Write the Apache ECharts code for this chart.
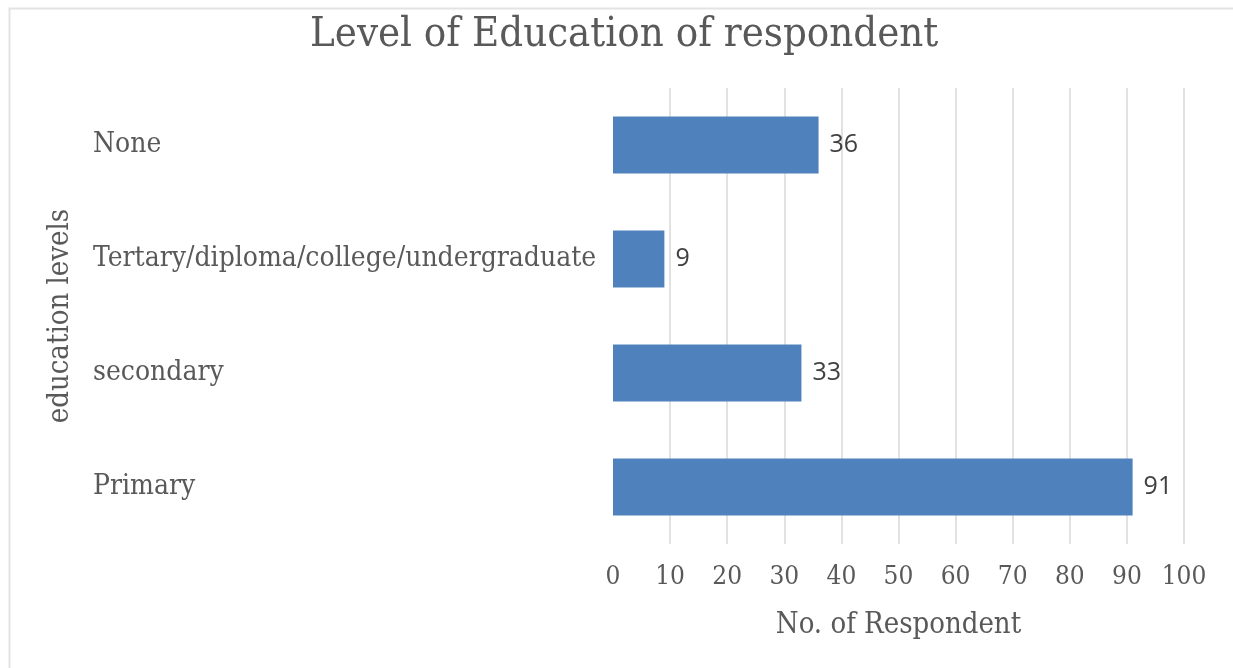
<!DOCTYPE html>
<html><head><meta charset="utf-8">
<script src="https://cdn.jsdelivr.net/npm/echarts@6/dist/echarts.min.js"></script>
<style>html,body{margin:0;padding:0;background:#fff}#c{width:1233px;height:668px}</style>
</head><body><div id="c"></div>
<script>
const categories = ['Primary', 'secondary', 'Tertary/diploma/college/undergraduate', 'None'];
const values = [91, 33, 9, 36];
const tickLabels = ['0', '10', '20', '30', '40', '50', '60', '70', '80', '90', '100'];
const titleText = 'Level of Education of respondent';
const xAxisName = 'No. of Respondent';
const yAxisName = 'education levels';

const serif = '"DejaVu Serif Condensed", "DejaVu Serif", serif';
const chart = echarts.init(document.getElementById('c'));
chart.setOption({
  animation: false,
  backgroundColor: '#fff',
  graphic: [{
    type: 'rect', left: 7, top: 6, z: -1,
    shape: { width: 1240, height: 680 },
    style: { fill: 'none', stroke: '#e3e3e3', lineWidth: 2 }
  }],
  title: {
    text: titleText, left: 305, top: 9,
    textStyle: { fontFamily: serif, fontSize: 41.5, fontWeight: 'normal', color: '#595959' }
  },
  grid: { left: 613, right: 49, top: 88, bottom: 124, containLabel: false },
  xAxis: {
    type: 'value', min: 0, max: 100, interval: 10,
    name: xAxisName, nameLocation: 'middle', nameGap: 67,
    nameTextStyle: { fontFamily: serif, fontSize: 29, color: '#595959' },
    axisLine: { show: false }, axisTick: { show: false },
    axisLabel: { fontFamily: serif, fontSize: 26, color: '#595959', margin: 20,
      formatter: (v) => tickLabels[Math.round(v / 10)] },
    splitLine: { show: true, showMinLine: false, lineStyle: { color: '#d9d9d9', width: 1.5 } }
  },
  yAxis: {
    type: 'category', data: categories,
    name: yAxisName, nameLocation: 'middle', nameGap: 538, nameRotate: 90,
    nameTextStyle: { fontFamily: serif, fontSize: 29, color: '#595959' },
    axisLine: { show: false }, axisTick: { show: false },
    axisLabel: { fontFamily: serif, fontSize: 28, color: '#595959', align: 'left', margin: 520 }
  },
  series: [{
    type: 'bar', data: values, barWidth: '50%',
    itemStyle: { color: '#4f81bd' },
    label: { show: true, position: 'right', distance: 11,
      fontFamily: '"Open Sans", "Noto Sans", sans-serif', fontSize: 25, color: '#404040' }
  }]
});
</script></body></html>
